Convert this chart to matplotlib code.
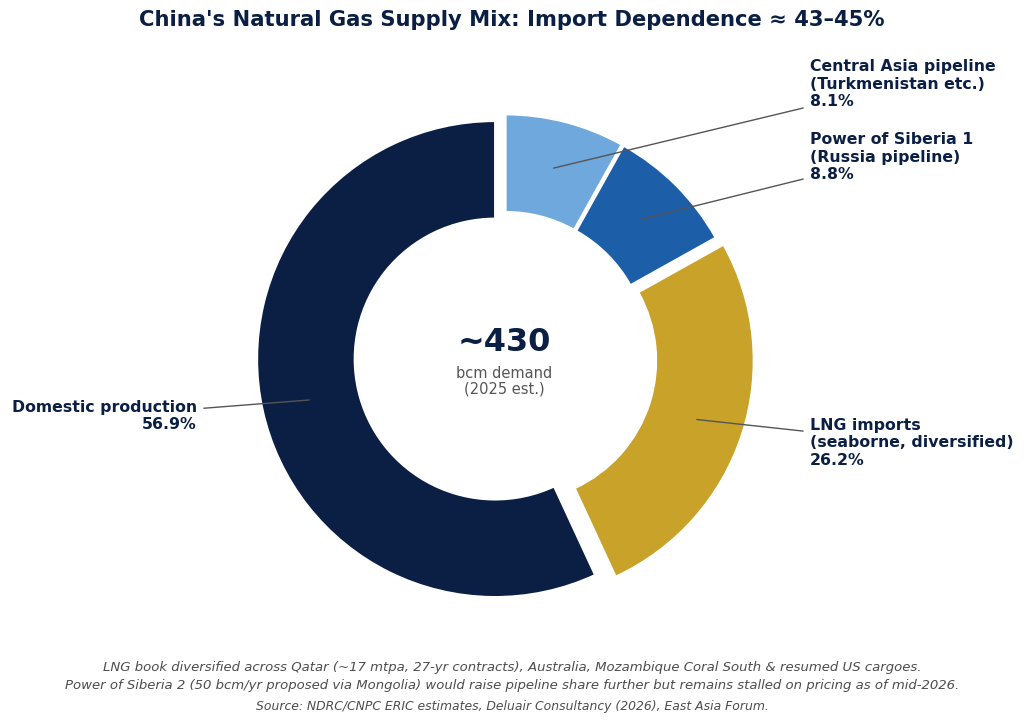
import matplotlib
matplotlib.use("Agg")
import matplotlib.pyplot as plt
import numpy as np

plt.rcParams["font.family"] = ["DejaVu Sans"]

# Data
labels = ["Central Asia pipeline\n(Turkmenistan etc.)",
          "Power of Siberia 1\n(Russia pipeline)",
          "LNG imports\n(seaborne, diversified)",
          "Domestic production"]
shares = [8.1, 8.8, 26.2, 56.9]
colors = ["#6FA8DC", "#1C5EA8", "#C9A229", "#0B1F44"]
explode = [0.02, 0.02, 0.05, 0.04]
center_value = "~430"
center_sub = "bcm demand\n(2025 est.)"

NAVY = "#0B1F44"

fig = plt.figure(figsize=(10.24, 7.27), dpi=100)
R_px = 238
cx, cy = 504.4, 727 - 357
half = 1.2 * R_px
ax = fig.add_axes([(cx - half) / 1024, (cy - half) / 727, 2 * half / 1024, 2 * half / 727])

wedges, _ = ax.pie(shares, colors=colors, explode=explode, startangle=90,
                   counterclock=False, radius=1.0,
                   wedgeprops=dict(width=0.41, edgecolor="white", linewidth=1.5))
ax.set_xlim(-1.2, 1.2)
ax.set_ylim(-1.2, 1.2)
ax.set_aspect("equal")
ax.axis("off")

# label placements (text anchor, alignment)
text_pos = [(1.284, 1.147, "left"), (1.284, 0.84, "left"),
            (1.284, -0.361, "left"), (-1.292, -0.248, "right")]

for w, lab, val, (tx, ty, ha) in zip(wedges, labels, shares, text_pos):
    ang = np.deg2rad((w.theta1 + w.theta2) / 2)
    c0 = w.center
    px = c0[0] + 0.8 * np.cos(ang)
    py = c0[1] + 0.8 * np.sin(ang)
    ax.annotate(f"{lab}\n{val:.1f}%", xy=(px, py), xytext=(tx, ty),
                ha=ha, va="center", fontsize=11.3, fontweight="bold", color=NAVY,
                linespacing=1.2,
                arrowprops=dict(arrowstyle="-", color="#555555", lw=1.0,
                                shrinkA=3, shrinkB=0),
                annotation_clip=False)

ax.text(0, 0.062, center_value, ha="center", va="center", fontsize=23,
        fontweight="bold", color=NAVY)
ax.text(0, -0.103, center_sub, ha="center", va="center", fontsize=10.5,
        color="#555555", linespacing=1.05)

fig.text(0.5, 1 - 20 / 727, "China's Natural Gas Supply Mix: Import Dependence \u2248 43\u201345%",
         ha="center", va="center", fontsize=15.2, fontweight="bold", color=NAVY)

fig.text(0.5, 1 - 676.5 / 727,
         "LNG book diversified across Qatar (~17 mtpa, 27-yr contracts), Australia, Mozambique Coral South & resumed US cargoes.\n"
         "Power of Siberia 2 (50 bcm/yr proposed via Mongolia) would raise pipeline share further but remains stalled on pricing as of mid-2026.",
         ha="center", va="center", fontsize=9.5, style="italic", color="#4D4D4D", linespacing=1.4)
fig.text(0.5, 1 - 706.5 / 727,
         "Source: NDRC/CNPC ERIC estimates, Deluair Consultancy (2026), East Asia Forum.",
         ha="center", va="center", fontsize=8.9, style="italic", color="#4D4D4D")

fig.savefig("out.png", dpi=100, facecolor="white")
